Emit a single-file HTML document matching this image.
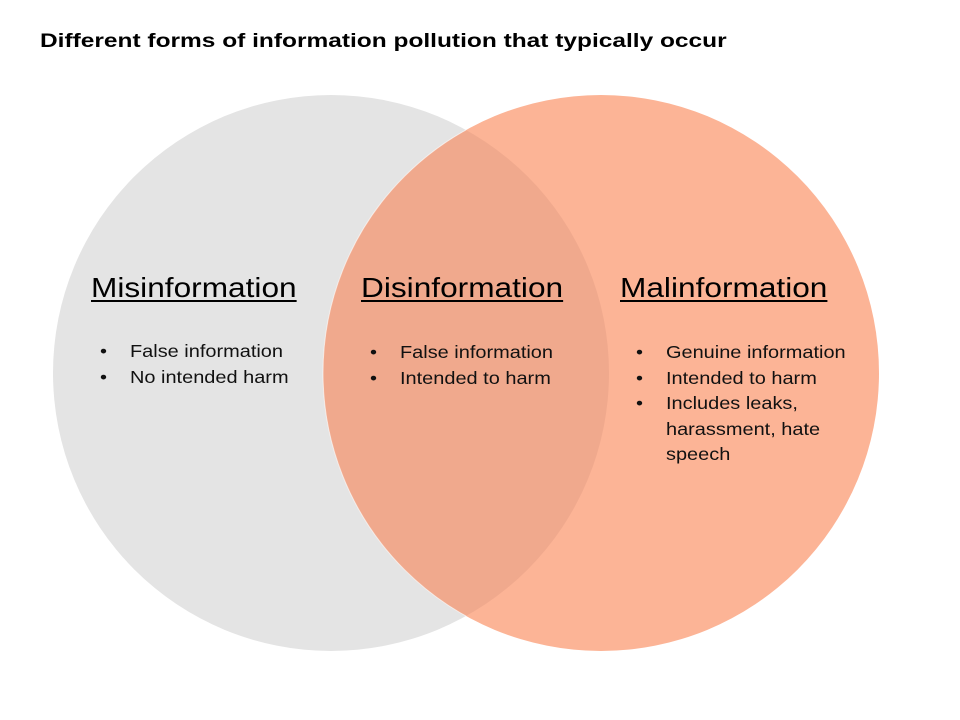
<!DOCTYPE html>
<html><head><meta charset="utf-8"><style>
html,body{margin:0;padding:0;background:#fff;}
body{width:960px;height:720px;position:relative;overflow:hidden;font-family:"Liberation Sans",sans-serif;}
.t{position:absolute;color:#000;white-space:nowrap;transform-origin:left top;}
.h{font-size:27.5px;text-decoration:underline;text-decoration-thickness:2px;text-underline-offset:3px;transform:scaleX(1.15);}
ul{position:absolute;margin:0;padding:0;list-style:none;font-size:17.5px;line-height:25.5px;color:#111;transform:scaleX(1.14);transform-origin:left top;}
li{position:relative;padding-left:26.3px;}
li:before{content:"•";position:absolute;left:0;}
</style></head><body>
<svg width="960" height="720" style="position:absolute;left:0;top:0">
<defs><clipPath id="lc"><circle cx="331" cy="373" r="278"/></clipPath></defs>
<circle cx="331" cy="373" r="278" fill="#e4e4e4"/>
<circle cx="601" cy="373" r="278" fill="#fcb496"/>
<circle cx="601" cy="373" r="278" fill="#f0a98d" clip-path="url(#lc)"/>
<circle cx="601" cy="373" r="278" fill="none" stroke="#fff" stroke-opacity="0.6" stroke-width="1" clip-path="url(#lc)"/>
</svg>
<div class="t" style="left:40px;top:30px;font-size:19.5px;font-weight:bold;transform:scaleX(1.255);">Different forms of information pollution that typically occur</div>
<div class="t h" style="left:91px;top:272px;">Misinformation</div>
<div class="t h" style="left:361px;top:272px;">Disinformation</div>
<div class="t h" style="left:620px;top:272px;">Malinformation</div>
<ul style="left:100px;top:339px;"><li>False information</li><li>No intended harm</li></ul>
<ul style="left:370px;top:340px;"><li>False information</li><li>Intended to harm</li></ul>
<ul style="left:636px;top:340px;"><li>Genuine information</li><li>Intended to harm</li><li>Includes leaks,<br>harassment, hate<br>speech</li></ul>
</body></html>
